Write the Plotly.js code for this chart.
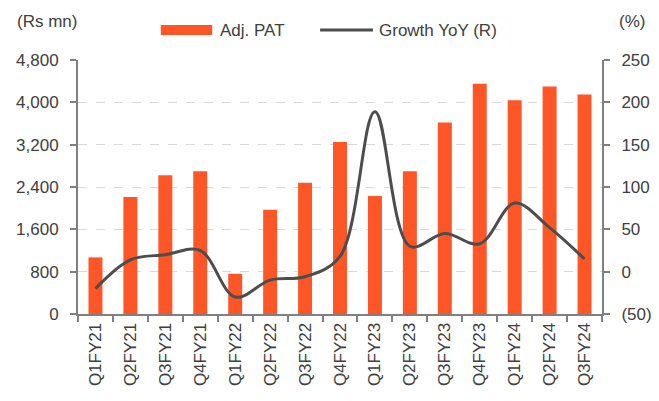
<!DOCTYPE html>
<html>
<head>
<meta charset="utf-8">
<script src="https://cdn.plot.ly/plotly-3.0.1.min.js"></script>
<style>
  html, body { margin: 0; padding: 0; background: #fff; }
  #chart { width: 659px; height: 401px; }
</style>
</head>
<body>
<div id="chart"></div>
<script>
// quarters and values
const quarters = ["Q1FY21", "Q2FY21", "Q3FY21", "Q4FY21", "Q1FY22", "Q2FY22", "Q3FY22", "Q4FY22",
  "Q1FY23", "Q2FY23", "Q3FY23", "Q4FY23", "Q1FY24", "Q2FY24", "Q3FY24"];
const adjPat = [1070, 2210, 2620, 2700, 760, 1970, 2480, 3250, 2230, 2700, 3620, 4350, 4040, 4300, 4150];
const growthYoY = [-20, 14, 20, 25, -30, -10, -6, 18, 189, 30, 45, 33, 81, 52, 15];

const leftTicks = [0, 800, 1600, 2400, 3200, 4000, 4800];
const rightTicks = [-50, 0, 50, 100, 150, 200, 250];
const rightTickText = rightTicks.map(v => (v < 0 ? "(" + Math.abs(v) + ")" : String(v)));

const BAR_COLOR = "#fe5626";
const LINE_COLOR = "#4d4d4d";
const TEXT_COLOR = "#404040";
const AXIS_COLOR = "#808080";
const FONT = "Liberation Sans, Arial, sans-serif";

function initChart() {
  const barTrace = {
    x: quarters,
    y: adjPat,
    type: "bar",
    name: "Adj. PAT",
    marker: { color: BAR_COLOR },
    hoverinfo: "skip",
  };
  const lineTrace = {
    x: quarters,
    y: growthYoY,
    type: "scatter",
    mode: "lines",
    name: "Growth YoY (R)",
    yaxis: "y2",
    line: { color: LINE_COLOR, width: 3, shape: "spline", smoothing: 1 },
    hoverinfo: "skip",
  };

  const layout = {
    width: 659,
    height: 401,
    margin: { l: 78, r: 57, t: 60, b: 87 },
    paper_bgcolor: "#ffffff",
    plot_bgcolor: "#ffffff",
    font: { family: FONT, size: 17, color: TEXT_COLOR },
    showlegend: false,
    bargap: 0.6,
    xaxis: {
      type: "category",
      tickangle: -90,
      tickson: "boundaries",
      ticks: "outside",
      ticklen: 6,
      tickcolor: AXIS_COLOR,
      tickwidth: 2,
      showline: true,
      linecolor: AXIS_COLOR,
      linewidth: 2,
      showgrid: false,
      tickfont: { size: 17, color: TEXT_COLOR },
    },
    yaxis: {
      range: [0, 4800],
      tickvals: leftTicks,
      tickformat: ",d",
      ticks: "outside",
      ticklen: 6,
      tickwidth: 2,
      tickcolor: AXIS_COLOR,
      ticklabelstandoff: 8,
      showline: true,
      linecolor: AXIS_COLOR,
      linewidth: 2,
      showgrid: true,
      gridcolor: "#d9d9d9",
      griddash: "dash",
      gridwidth: 1,
      zeroline: false,
      tickfont: { size: 17, color: TEXT_COLOR },
    },
    yaxis2: {
      overlaying: "y",
      side: "right",
      range: [-50, 250],
      tickvals: rightTicks,
      ticktext: rightTickText,
      ticks: "outside",
      ticklen: 6,
      tickwidth: 2,
      tickcolor: AXIS_COLOR,
      ticklabelstandoff: 8,
      showline: true,
      linecolor: AXIS_COLOR,
      linewidth: 2,
      showgrid: false,
      zeroline: false,
      tickfont: { size: 17, color: TEXT_COLOR },
    },
    shapes: [
      // legend swatches
      { type: "rect", xref: "paper", yref: "paper", x0: 0.158, x1: 0.256, y0: 1.098, y1: 1.138,
        fillcolor: BAR_COLOR, line: { width: 0 } },
      { type: "line", xref: "paper", yref: "paper", x0: 0.462, x1: 0.563, y0: 1.118, y1: 1.118,
        line: { color: LINE_COLOR, width: 3 } },
    ],
    annotations: [
      { text: "Adj. PAT", xref: "paper", yref: "paper", x: 0.267, y: 1.118, xanchor: "left", yanchor: "middle",
        showarrow: false, font: { size: 17, color: TEXT_COLOR } },
      { text: "Growth YoY (R)", xref: "paper", yref: "paper", x: 0.57, y: 1.118, xanchor: "left", yanchor: "middle",
        showarrow: false, font: { size: 17, color: TEXT_COLOR } },
      { text: "(Rs mn)", xref: "paper", yref: "paper", x: -0.12, y: 1.15, xanchor: "left", yanchor: "middle",
        showarrow: false, font: { size: 17, color: TEXT_COLOR } },
      { text: "(%)", xref: "paper", yref: "paper", x: 1.028, y: 1.15, xanchor: "left", yanchor: "middle",
        showarrow: false, font: { size: 17, color: TEXT_COLOR } },
    ],
  };

  const config = { displayModeBar: false, staticPlot: true };
  Plotly.newPlot("chart", [barTrace, lineTrace], layout, config);
}

initChart();
</script>
</body>
</html>
